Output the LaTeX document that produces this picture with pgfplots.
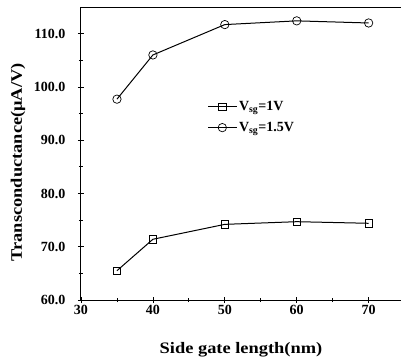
\documentclass[border=0pt]{standalone}
\usepackage{pgfplots}
\pgfplotsset{compat=1.18}
\usepackage{fontspec}
\setmainfont{Liberation Serif}
\begin{document}
\begin{tikzpicture}
\useasboundingbox (-81pt,-62pt) rectangle (320pt,300pt);
\begin{axis}[
  at={(0,0)}, anchor=south west,
  scale only axis,
  width=320pt, height=293pt,
  xmin=30, xmax=74.5, ymin=60, ymax=115,
  axis lines=left,
  axis line style={-, line width=1pt},
  xtick={30,40,50,60,70},
  ytick={60,70,80,90,100,110},
  minor xtick={35,45,55,65},
  minor ytick={65,75,85,95,105},
  tick align=center,
  major tick length=6pt, minor tick length=4pt,
  tick style={black, line width=0.8pt},
  every tick label/.append style={font=\fontsize{14}{16}\selectfont\bfseries},
  /pgf/number format/assume math mode=true,
  yticklabel={\pgfmathprintnumber[fixed,fixed zerofill,precision=1]{\tick}},
  yticklabel style={xshift=-9pt},
  xticklabel style={yshift=1pt},
  xlabel={\scalebox{1.15}[1]{\fontsize{16}{18}\selectfont\bfseries Side gate length(nm)}},
  ylabel={\scalebox{1.15}[1]{\fontsize{16}{18}\selectfont\bfseries Transconductance(μA/V)}},
  xlabel style={at={(axis description cs:0.5,0)}, anchor=center, yshift=-50pt},
  ylabel style={at={(axis description cs:0,0.47)}, anchor=center, xshift=0pt, yshift=63pt},
  legend style={draw=none, fill=none, at={(rel axis cs:0.395,0.685)}, anchor=north west,
    font=\fontsize{14}{16}\selectfont\bfseries, row sep=6pt, inner sep=0pt},
  legend cell align=left,
  legend image code/.code={\draw[mark repeat=2,mark phase=2,#1] plot coordinates {(0cm,0cm) (0.5cm,0cm) (1cm,0cm)};},
  clip=false,
]
\draw[line width=1pt] (rel axis cs:0,1) -- (rel axis cs:1,1);
\addplot[black, line width=1pt, mark=square, mark size=3.7pt, mark options={fill=white, line width=0.7pt}]
  coordinates {(35,65.5) (40,71.4) (50,74.2) (60,74.7) (70,74.4)};
\addlegendentry{V\textsubscript{sg}=1V}
\addplot[black, line width=1pt, mark=o, mark size=4.2pt, mark options={fill=white, line width=0.7pt}]
  coordinates {(35,97.7) (40,106.0) (50,111.7) (60,112.4) (70,112.0)};
\addlegendentry{V\textsubscript{sg}=1.5V}
\end{axis}
\end{tikzpicture}
\end{document}
